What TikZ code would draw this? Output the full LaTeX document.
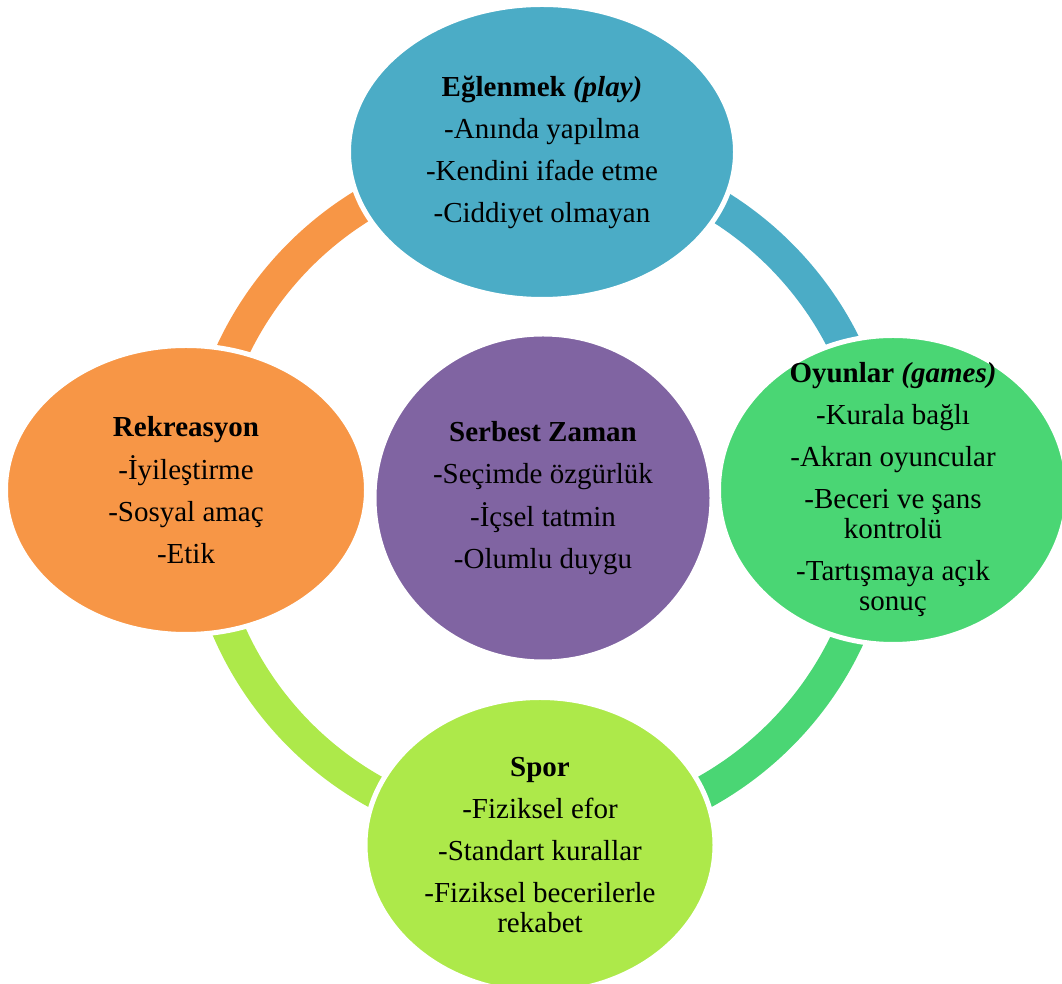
\documentclass[tikz,border=0pt]{standalone}
\usepackage{fontspec}
\setmainfont{Liberation Serif}
\usetikzlibrary{shapes.geometric}
\definecolor{playblue}{HTML}{4BACC6}
\definecolor{gamegreen}{HTML}{4AD674}
\definecolor{sportgreen}{HTML}{ADE94A}
\definecolor{recorange}{HTML}{F79646}
\definecolor{freepurple}{HTML}{8064A2}
\tikzset{
	blob/.style={ellipse, draw=white, line width=5pt, inner sep=0pt},
	ring/.style={line width=33pt},
	txt/.style={align=center, text=black, font=\fontsize{29}{30}\selectfont},
}
\begin{document}
\begin{tikzpicture}[x=1pt,y=1pt]
		\useasboundingbox (0,0) rectangle (1062,984);
		\coordinate (hub) at (540,489);
		% ring behind the ellipses
		\draw[ring,playblue] (hub) ++(90:339.5) arc[start angle=90,end angle=0,radius=339.5];
		\draw[ring,gamegreen] (hub) ++(0:339.5) arc[start angle=0,end angle=-90,radius=339.5];
		\draw[ring,sportgreen] (hub) ++(-90:339.5) arc[start angle=-90,end angle=-180,radius=339.5];
		\draw[ring,recorange] (hub) ++(180:339.5) arc[start angle=180,end angle=90,radius=339.5];
		% ellipses
		\node[blob,fill=playblue,minimum width=387,minimum height=295] (play) at (542,832) {};
		\node[blob,fill=gamegreen,minimum width=349,minimum height=309] (games) at (893,494) {};
		\node[blob,fill=sportgreen,minimum width=350,minimum height=295] (spor) at (540,139) {};
		\node[blob,fill=recorange,minimum width=361,minimum height=289] (rek) at (186,494) {};
		\node[blob,fill=freepurple,minimum width=338,minimum height=328] (free) at (543,486) {};
		% texts
		\node[txt] (play-txt) at (play) {\textbf{Eğlenmek \textit{(play)}}\\[12pt] -Anında yapılma\\[12pt] -Kendini ifade etme\\[12pt] -Ciddiyet olmayan};
		\node[txt] (games-txt) at (games) {\textbf{Oyunlar \textit{(games)}}\\[12pt] -Kurala bağlı\\[12pt] -Akran oyuncular\\[12pt] -Beceri ve şans\\ kontrolü\\[12pt] -Tartışmaya açık\\ sonuç};
		\node[txt] (spor-txt) at (spor) {\textbf{Spor}\\[12pt] -Fiziksel efor\\[12pt] -Standart kurallar\\[12pt] -Fiziksel becerilerle\\ rekabet};
		\node[txt] (rek-txt) at (rek) {\textbf{Rekreasyon}\\[12pt] -İyileştirme\\[12pt] -Sosyal amaç\\[12pt] -Etik};
		\node[txt] (free-txt) at (free) {\textbf{Serbest Zaman}\\[12pt] -Seçimde özgürlük\\[12pt] -İçsel tatmin\\[12pt] -Olumlu duygu};
\end{tikzpicture}
\end{document}
